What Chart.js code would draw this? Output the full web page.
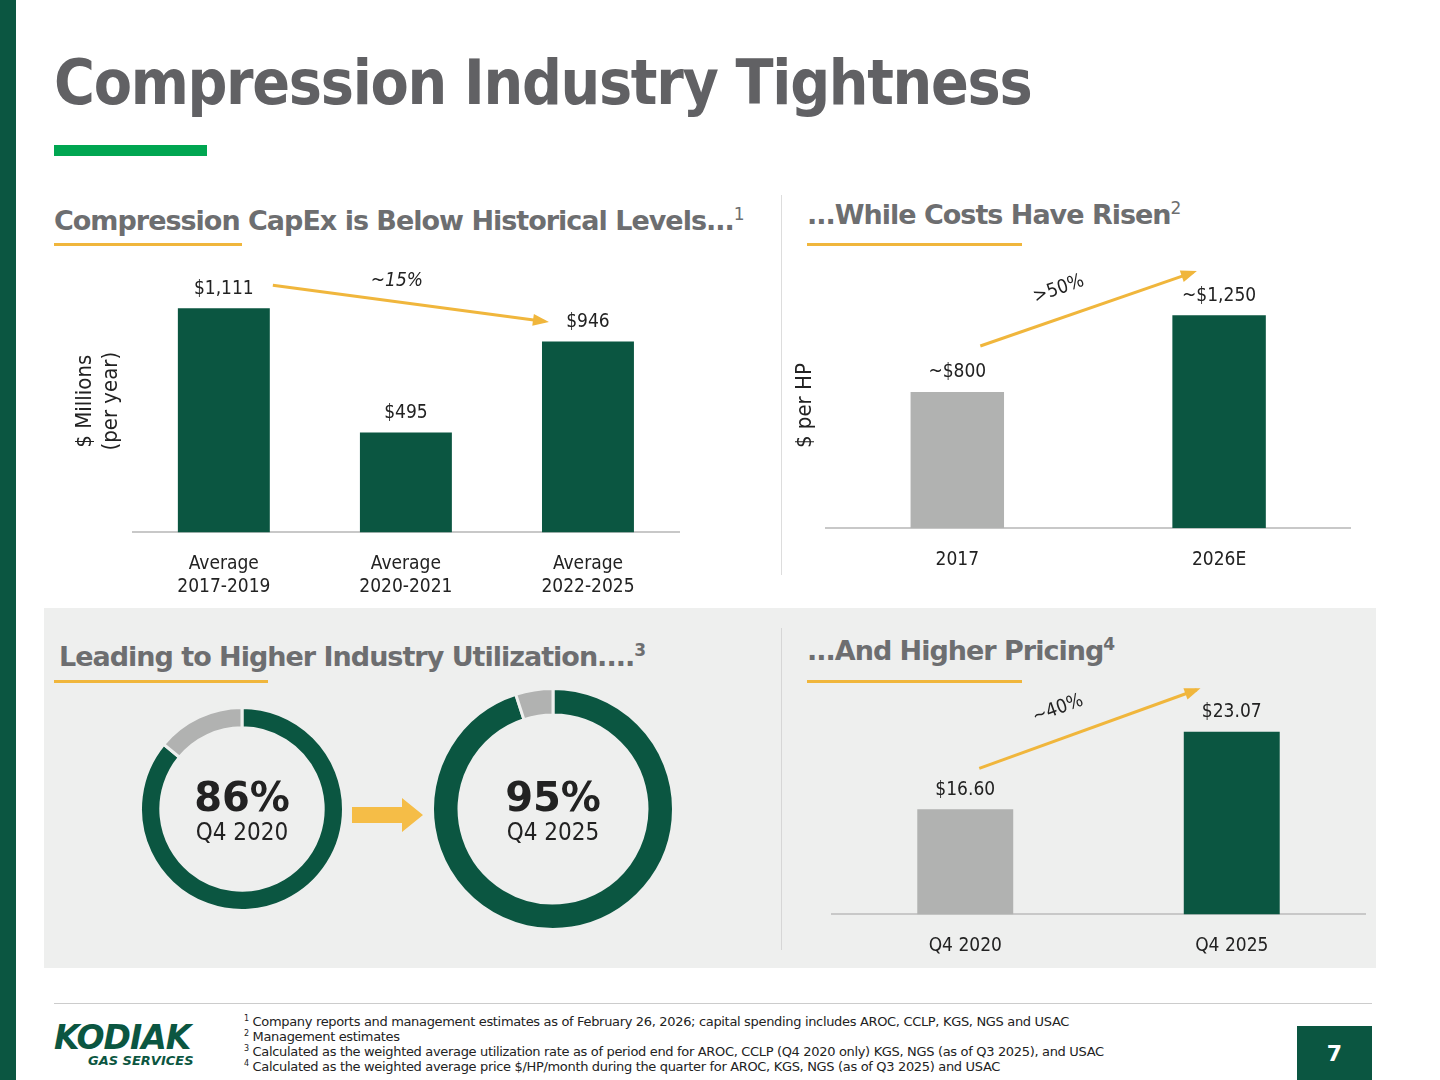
<!DOCTYPE html>
<html>
<head>
<meta charset="UTF-8">
<script src="https://cdn.jsdelivr.net/npm/chart.js"></script>
<style>
  body { margin:0; width:1440px; height:1080px; position:relative; background:#fff; font-family:'DejaVu Sans', sans-serif; overflow:hidden; }
  .abs { position:absolute; }
  .hdr { position:absolute; font-weight:bold; font-size:27px; color:#6d6e70; white-space:nowrap; letter-spacing:-1px; }
  .hdr sup { font-size:17px; font-weight:normal; }
  .uline { position:absolute; height:3px; background:#f0b63c; }
  .fn { position:absolute; left:244px; font-size:13px; color:#222; white-space:nowrap; letter-spacing:-0.33px; }
  .fn sup { font-size:8px; }
  canvas { position:absolute; }
</style>
</head>
<body>
<div class="abs" style="left:0;top:0;width:16px;height:1080px;background:#0b5641"></div>
<div class="abs" style="left:54px;top:46px;font-size:62px;font-weight:bold;color:#616164;letter-spacing:-1.3px;font-family:'DejaVu Sans Condensed','DejaVu Sans',sans-serif">Compression Industry Tightness</div>
<div class="abs" style="left:54px;top:145px;width:153px;height:11px;background:#00a651"></div>

<div class="abs" style="left:44px;top:608px;width:1332px;height:360px;background:#eeefee"></div>
<div class="abs" style="left:781px;top:195px;width:1px;height:380px;background:#ddd"></div>
<div class="abs" style="left:781px;top:628px;width:1px;height:322px;background:#d6d6d6"></div>

<div class="hdr" style="left:54px;top:204px">Compression CapEx is Below Historical Levels...<sup>1</sup></div>
<div class="uline" style="left:54px;top:243px;width:188px"></div>
<div class="hdr" style="left:807px;top:198px">...While Costs Have Risen<sup>2</sup></div>
<div class="uline" style="left:807px;top:243px;width:215px"></div>
<div class="hdr" style="left:59px;top:640px">Leading to Higher Industry Utilization....<sup style="font-weight:bold">3</sup></div>
<div class="uline" style="left:54px;top:680px;width:214px"></div>
<div class="hdr" style="left:807px;top:634px">...And Higher Pricing<sup style="font-weight:bold">4</sup></div>
<div class="uline" style="left:807px;top:680px;width:215px"></div>

<canvas id="c1" width="678" height="360" style="left:48px;top:250px"></canvas>
<canvas id="c2" width="624" height="330" style="left:774px;top:263px"></canvas>
<canvas id="c4" width="587" height="290" style="left:793px;top:679px"></canvas>
<canvas id="d1" width="206" height="206" style="left:139px;top:706px"></canvas>
<canvas id="d2" width="244" height="244" style="left:431px;top:687px"></canvas>
<div class="abs" style="left:132px;top:774px;width:220px;text-align:center;font-size:40px;font-weight:bold;color:#222">86%</div>
<div class="abs" style="left:132px;top:818px;width:220px;text-align:center;font-size:24px;color:#222;font-family:'DejaVu Sans Condensed'">Q4 2020</div>
<div class="abs" style="left:423px;top:774px;width:260px;text-align:center;font-size:40px;font-weight:bold;color:#222">95%</div>
<div class="abs" style="left:423px;top:818px;width:260px;text-align:center;font-size:24px;color:#222;font-family:'DejaVu Sans Condensed'">Q4 2025</div>
<svg class="abs" style="left:350px;top:797px" width="76" height="36"><polygon points="2,10 52,10 52,1 73,18 52,35 52,26 2,26" fill="#f5bd47"/></svg>

<div class="abs" style="left:54px;top:1003px;width:1318px;height:1px;background:#ccc"></div>
<div class="abs" style="left:54px;top:1018px;font-size:33px;font-weight:bold;font-style:italic;color:#0b5641;letter-spacing:-1px">KODIAK</div>
<div class="abs" style="left:88px;top:1053px;font-size:13px;font-weight:bold;font-style:italic;color:#0b5641">GAS SERVICES</div>
<div class="fn" style="top:1014px"><sup>1</sup> Company reports and management estimates as of February 26, 2026; capital spending includes AROC, CCLP, KGS, NGS and USAC</div>
<div class="fn" style="top:1029px"><sup>2</sup> Management estimates</div>
<div class="fn" style="top:1044px"><sup>3</sup> Calculated as the weighted average utilization rate as of period end for AROC, CCLP (Q4 2020 only) KGS, NGS (as of Q3 2025), and USAC</div>
<div class="fn" style="top:1059px"><sup>4</sup> Calculated as the weighted average price $/HP/month during the quarter for AROC, KGS, NGS (as of Q3 2025) and USAC</div>
<div class="abs" style="left:1297px;top:1026px;width:75px;height:54px;background:#0b5641;color:#fff;font-size:22px;font-weight:bold;text-align:center;line-height:56px">7</div>

<script>
const GREEN = '#0b5641', GREY = '#b1b2b1', YEL = '#f0b63c';

const capexLabels = [['Average', '2017-2019'], ['Average', '2020-2021'], ['Average', '2022-2025']];
const capexValues = [1111, 495, 946];
const capexText = ['$1,111', '$495', '$946'];

const costLabels = ['2017', '2026E'];
const costValues = [800, 1250];
const costText = ['~$800', '~$1,250'];

const priceLabels = ['Q4 2020', 'Q4 2025'];
const priceValues = [16.60, 23.07];
const priceText = ['$16.60', '$23.07'];

const utilValues = [[86, 14], [95, 5]];

const FONT = "'DejaVu Sans Condensed', 'DejaVu Sans', sans-serif";
Chart.defaults.font.family = FONT;
Chart.defaults.color = '#222';

// value labels above bars plus a trend arrow between first and last bar
function labelsAndArrow(texts, arrow) {
  return {
    id: 'la',
    afterDatasetsDraw(chart) {
      const ctx = chart.ctx;
      const bars = chart.getDatasetMeta(0).data;
      ctx.save();
      ctx.font = '19px ' + FONT;
      ctx.fillStyle = '#222';
      ctx.textAlign = 'center';
      ctx.textBaseline = 'bottom';
      bars.forEach((b, i) => ctx.fillText(texts[i], b.x, b.y - 10));
      const a = bars[0], z = bars[bars.length - 1];
      const x1 = a.x + arrow.dx1, y1 = a.y + arrow.dy1;
      const x2 = z.x + arrow.dx2, y2 = z.y + arrow.dy2;
      ctx.strokeStyle = YEL; ctx.fillStyle = YEL; ctx.lineWidth = 3;
      ctx.beginPath(); ctx.moveTo(x1, y1); ctx.lineTo(x2, y2); ctx.stroke();
      const ang = Math.atan2(y2 - y1, x2 - x1);
      ctx.beginPath();
      ctx.moveTo(x2 + 4 * Math.cos(ang), y2 + 4 * Math.sin(ang));
      ctx.lineTo(x2 - 12 * Math.cos(ang) + 6 * Math.sin(ang), y2 - 12 * Math.sin(ang) - 6 * Math.cos(ang));
      ctx.lineTo(x2 - 12 * Math.cos(ang) - 6 * Math.sin(ang), y2 - 12 * Math.sin(ang) + 6 * Math.cos(ang));
      ctx.closePath(); ctx.fill();
      ctx.translate((x1 + x2) / 2 + arrow.lx, (y1 + y2) / 2 + arrow.ly);
      if (arrow.rotate) ctx.rotate(ang);
      ctx.fillStyle = '#222';
      ctx.font = (arrow.italic ? 'italic ' : '') + '19px ' + FONT;
      ctx.textBaseline = 'middle';
      ctx.fillText(arrow.text, 0, 0);
      ctx.restore();
    }
  };
}

function barChart(id, labels, values, colors, min, max, catPct, yTitle, texts, arrow, pad) {
  new Chart(document.getElementById(id), {
    type: 'bar',
    data: { labels, datasets: [{ data: values, backgroundColor: colors, barPercentage: 1, categoryPercentage: catPct }] },
    options: {
      responsive: false, animation: false,
      layout: { padding: pad },
      plugins: { legend: { display: false }, tooltip: { enabled: false } },
      scales: {
        x: { grid: { display: false }, border: { color: '#c8c8c8', width: 2 },
             ticks: { font: { size: 19 }, color: '#222', padding: 12 } },
        y: { min, max, grid: { display: false }, border: { display: false },
             ticks: { display: false },
             title: { display: !!yTitle, text: yTitle, font: { size: 22 }, color: '#222', padding: { bottom: 0 } } }
      }
    },
    plugins: [labelsAndArrow(texts, arrow)]
  });
}

barChart('c1', capexLabels, capexValues, GREEN, 0, 1300, 0.505, ['$ Millions', '(per year)'], capexText,
  { dx1: 49, dy1: -23, dx2: -43, dy2: -20, text: '~15%', lx: -12, ly: -22, italic: true, rotate: false },
  { left: 20, top: 20, right: 47, bottom: 0 });
barChart('c2', costLabels, costValues, [GREY, GREEN], 0, 1440, 0.357, '$ per HP', costText,
  { dx1: 23, dy1: -46, dx2: -26, dy2: -43, text: '>50%', lx: -28, ly: -20, italic: false, rotate: true },
  { left: 14, top: 20, right: 48, bottom: 10 });
// slide's price bars are drawn on a truncated axis
barChart('c4', priceLabels, priceValues, [GREY, GREEN], 7.85, 25.8, 0.36, '', priceText,
  { dx1: 14, dy1: -41, dx2: -35, dy2: -42, text: '~40%', lx: -30, ly: -20, italic: false, rotate: true },
  { left: 31, top: 20, right: 15, bottom: 0 });

function donut(id, values, cut) {
  new Chart(document.getElementById(id), {
    type: 'doughnut',
    data: { datasets: [{ data: values, backgroundColor: [GREEN, GREY], borderColor: '#eeefee', borderWidth: 3 }] },
    options: { responsive: false, animation: false, cutout: cut,
               plugins: { legend: { display: false }, tooltip: { enabled: false } } }
  });
}
donut('d1', utilValues[0], '80%');
donut('d2', utilValues[1], '78%');
</script>
</body>
</html>
